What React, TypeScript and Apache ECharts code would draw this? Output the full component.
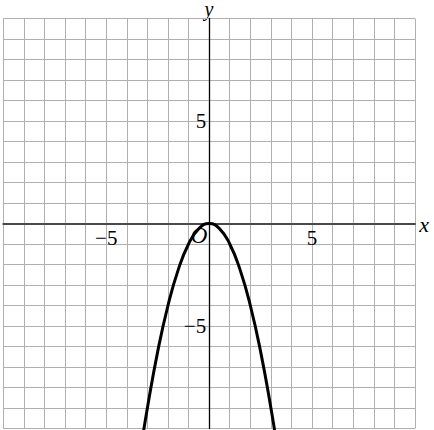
import { useEffect, useRef } from 'react';
import * as echarts from 'echarts';

// ─── Data ─────────────────────────────────────────────────────────────────────

// points (it runs out of the grid below y = -10)
const curveX = [-3.3, -3, -2.5, -2, -1.5, -1, -0.5, 0, 0.5, 1, 1.5, 2, 2.5, 3, 3.3];
const curveY = [-10.89, -9, -6.25, -4, -2.25, -1, -0.25, 0, -0.25, -1, -2.25, -4, -6.25, -9, -10.89];

const xTickLabels = [-5, 5];
const yTickLabels = [-5, 5];

const axisMin = -10;
const axisMax = 10;

// ─── Helpers ──────────────────────────────────────────────────────────────────

const SERIF = '"Liberation Serif", "DejaVu Serif", serif';

function fmtTick(v: number): string {
  return v < 0 ? '\u2212' + Math.abs(v) : String(v);
}

function buildOption(): echarts.EChartsOption {
  const splitLine = { show: true, lineStyle: { color: '#b0b0b0', width: 1 } };
  const tickLabel = { color: '#000', fontFamily: SERIF, fontSize: 21, opacity: 1 };
  return {
    animation: false,
    backgroundColor: '#ffffff',
    grid: {
      left: 3.3,
      right: 19,
      top: 18.5,
      bottom: 1.5,
      containLabel: false,
      outerBoundsMode: 'none',
    } as any,
    xAxis: {
      type: 'value',
      min: axisMin,
      max: axisMax,
      interval: 1,
      axisLine: { show: true, onZero: true, lineStyle: { color: '#4a4a4a', width: 2 } },
      axisTick: { show: false },
      axisLabel: { show: false },
      splitLine,
    },
    yAxis: {
      type: 'value',
      min: axisMin,
      max: axisMax,
      interval: 1,
      axisLine: { show: true, onZero: true, lineStyle: { color: '#000', width: 1.3 } },
      axisTick: { show: false },
      axisLabel: { show: false },
      splitLine,
    },
    graphic: [
      {
        type: 'text',
        x: 199,
        y: 235,
        style: {
          text: 'O',
          font: `italic 23px ${SERIF}`,
          fill: '#000',
          align: 'center',
          verticalAlign: 'middle',
        },
      },
      {
        type: 'text',
        x: 424,
        y: 224,
        style: {
          text: 'x',
          font: `italic 22px ${SERIF}`,
          fill: '#000',
          align: 'center',
          verticalAlign: 'middle',
        },
      },
      {
        type: 'text',
        x: 209,
        y: 9,
        style: {
          text: 'y',
          font: `italic 20px ${SERIF}`,
          fill: '#000',
          align: 'center',
          verticalAlign: 'middle',
        },
      },
    ],
    series: [
      {
        type: 'line',
        data: curveX.map((x, i) => [x, curveY[i]]),
        smooth: true,
        symbol: 'none',
        clip: true,
        lineStyle: { color: '#000', width: 3 },
        z: 5,
      },
      // tick labels on the x axis
      {
        type: 'scatter',
        data: xTickLabels.map((v) => [v, 0]),
        symbolSize: 0,
        itemStyle: { color: '#000' },
        silent: true,
        label: {
          show: true,
          position: 'bottom',
          distance: 4,
          formatter: (p: any) => fmtTick(p.value[0]),
          ...tickLabel,
        },
      },
      // tick labels on the y axis
      {
        type: 'scatter',
        data: yTickLabels.map((v) => [0, v]),
        symbolSize: 0,
        itemStyle: { color: '#000' },
        silent: true,
        label: {
          show: true,
          position: 'left',
          distance: 3,
          formatter: (p: any) => fmtTick(p.value[1]),
          ...tickLabel,
        },
      },
    ],
  };
}

// ─── Chart ────────────────────────────────────────────────────────────────────

export default function App() {
  const ref = useRef<HTMLDivElement>(null);

  useEffect(() => {
    if (!ref.current) return;
    const chart = echarts.init(ref.current, null, { renderer: 'svg' });
    chart.setOption(buildOption());
    return () => chart.dispose();
  }, []);

  return (
    <div
      ref={ref}
      style={{ position: 'absolute', left: 0, top: 0, width: 434, height: 430 }}
    />
  );
}
